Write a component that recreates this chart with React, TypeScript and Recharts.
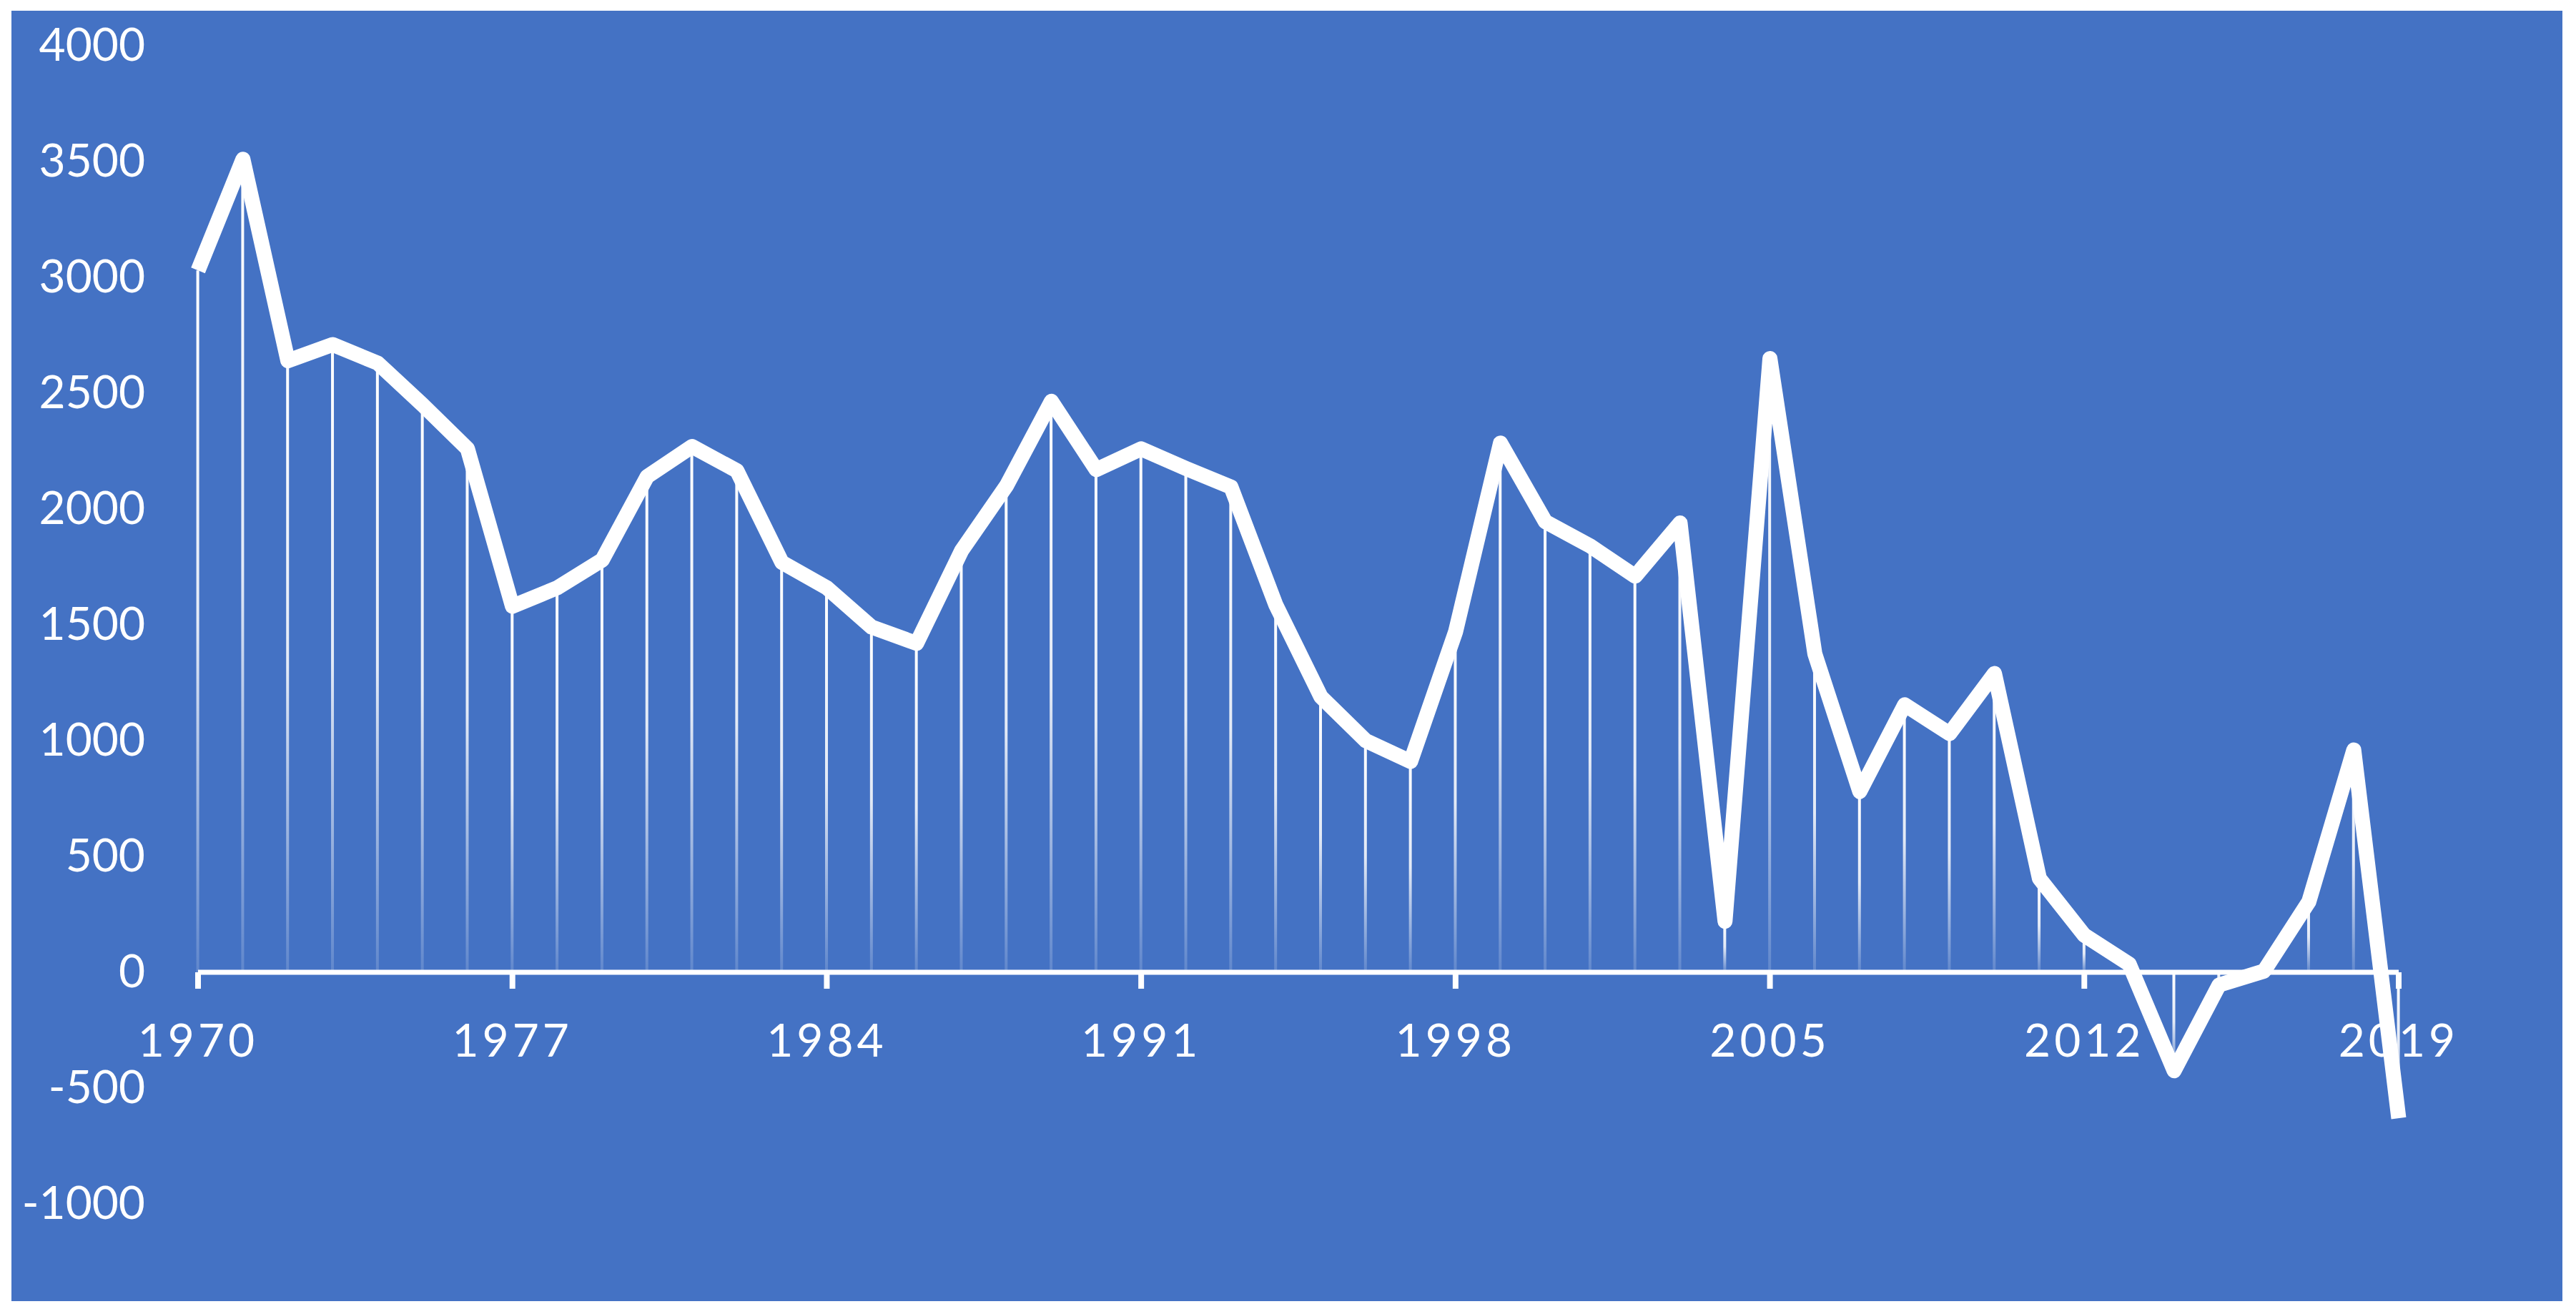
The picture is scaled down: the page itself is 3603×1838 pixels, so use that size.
import React from "react"
import { ComposedChart, Line, Bar, XAxis, YAxis, ReferenceLine } from "recharts"

// yearly values
const years = [
  1970, 1971, 1972, 1973, 1974, 1975, 1976, 1977, 1978, 1979,
  1980, 1981, 1982, 1983, 1984, 1985, 1986, 1987, 1988, 1989,
  1990, 1991, 1992, 1993, 1994, 1995, 1996, 1997, 1998, 1999,
  2000, 2001, 2002, 2003, 2004, 2005, 2006, 2007, 2008, 2009,
  2010, 2011, 2012, 2013, 2014, 2015, 2016, 2017, 2018, 2019,
]
const values = [
  3030, 3510, 2640, 2710, 2630, 2450, 2260, 1580, 1660, 1780,
  2140, 2270, 2165, 1770, 1660, 1490, 1420, 1820, 2100, 2465,
  2170, 2260, 2175, 2095, 1585, 1190, 1000, 910, 1470, 2285,
  1945, 1840, 1710, 1940, 220, 2650, 1375, 780, 1155, 1030,
  1290, 405, 160, 35, -425, -55, 5, 305, 960, -630,
]
const xTicks = [1970, 1977, 1984, 1991, 1998, 2005, 2012, 2019]
const yTicks = [-1000, -500, 0, 500, 1000, 1500, 2000, 2500, 3000, 3500, 4000]

const data = years.map((year, i) => ({ year, value: values[i] }))

const BLUE = "#4472C4"
const FONT = "Lato, 'Open Sans', sans-serif"
const CHART_W = 3568
const CHART_H = 1805
const X_AXIS_H = 30
const margin = { top: 49, right: 229, bottom: 136 - X_AXIS_H, left: 0 }
const Y_MIN = -1000
const Y_MAX = 4000
const PLOT_H = CHART_H - margin.top - margin.bottom - X_AXIS_H
// where the value 0 sits, so the category axis can cross there like in Excel
const ZERO_Y = margin.top + (PLOT_H * Y_MAX) / (Y_MAX - Y_MIN)

const XTick = ({ x, payload }: any) => (
  <g>
    <line x1={x} x2={x} y1={ZERO_Y} y2={ZERO_Y + 23} stroke="#fff" strokeWidth={8} />
    <text
      x={x}
      y={ZERO_Y + 95}
      dy="0.36em"
      textAnchor="middle"
      fill="#fff"
      fontSize={64}
      fontFamily={FONT}
      letterSpacing={5}
    >
      {payload.value}
    </text>
  </g>
)

const YTick = ({ x, y, payload }: any) => (
  <text x={x} y={y} dy="0.33em" textAnchor="end" fill="#fff" fontSize={64} fontFamily={FONT}>
    {payload.value}
  </text>
)

export default function App() {
  return (
    <div style={{ width: 3603, height: 1838, background: "#fff", position: "relative" }}>
      <style>{"body{margin:0}"}</style>
      <div style={{ position: "absolute", left: 16, top: 15, width: CHART_W, height: CHART_H, background: BLUE }}>
        <ComposedChart width={CHART_W} height={CHART_H} data={data} margin={margin}>
          <defs>
            <linearGradient id="dropFade" x1="0" y1="0" x2="0" y2="1">
              <stop offset="0%" stopColor="#fff" stopOpacity={1} />
              <stop offset="50%" stopColor="#fff" stopOpacity={0.85} />
              <stop offset="100%" stopColor="#fff" stopOpacity={0.15} />
            </linearGradient>
          </defs>
          <XAxis
            dataKey="year"
            type="number"
            domain={[1970, 2019]}
            ticks={xTicks}
            interval={0}
            height={X_AXIS_H}
            axisLine={false}
            tickLine={false}
            tick={<XTick />}
          />
          <YAxis
            type="number"
            domain={[Y_MIN, Y_MAX]}
            ticks={yTicks}
            interval={0}
            width={261}
            axisLine={false}
            tickLine={false}
            tickSize={0}
            tickMargin={74}
            tick={<YTick />}
          />
          <ReferenceLine y={0} stroke="#fff" strokeWidth={7} />
          <Bar dataKey="value" barSize={4} fill="url(#dropFade)" isAnimationActive={false} />
          <Line
            type="linear"
            dataKey="value"
            stroke="#fff"
            strokeWidth={21}
            strokeLinejoin="round"
            strokeLinecap="butt"
            dot={false}
            activeDot={false}
            isAnimationActive={false}
          />
        </ComposedChart>
      </div>
    </div>
  )
}
